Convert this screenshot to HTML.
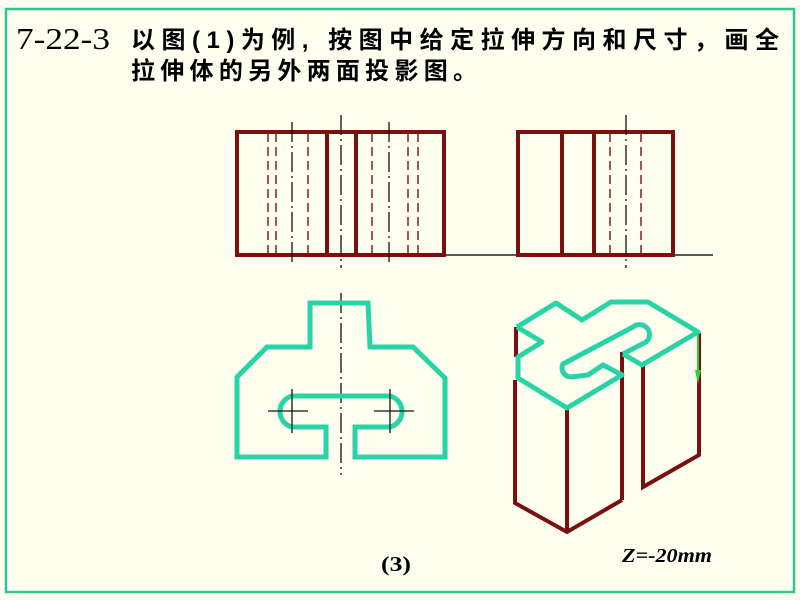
<!DOCTYPE html>
<html><head><meta charset="utf-8"><style>
html,body{margin:0;padding:0;background:#fffff0;}
body{width:800px;height:600px;position:relative;overflow:hidden;}
</style></head><body>
<svg width="800" height="600" style="position:absolute;left:0;top:0">
<rect x="0" y="0" width="800" height="600" fill="#fffff0"/>
<rect x="6" y="9" width="788" height="583" fill="none" stroke="#2ec496" stroke-width="2.5"/>
<g fill="none" stroke-linecap="butt">
<line x1="444" y1="255" x2="713" y2="255" stroke="#222" stroke-width="1.5"/>
<g stroke="#8b1a1a" stroke-width="1.5" stroke-dasharray="9,5">
<line x1="268" y1="133" x2="268" y2="254"/><line x1="276" y1="133" x2="276" y2="254"/>
<line x1="308" y1="133" x2="308" y2="254"/><line x1="372" y1="133" x2="372" y2="254"/>
<line x1="408" y1="133" x2="408" y2="254"/><line x1="418" y1="133" x2="418" y2="254"/>
<line x1="610" y1="133" x2="610" y2="254"/><line x1="641" y1="133" x2="641" y2="254"/>
</g>
<g stroke="#7a0f0f" stroke-width="4">
<rect x="237" y="132" width="207" height="123"/>
<line x1="327" y1="132" x2="327" y2="255"/><line x1="356" y1="132" x2="356" y2="255"/>
<rect x="518" y="132" width="155" height="123"/>
<line x1="562" y1="132" x2="562" y2="255"/><line x1="594" y1="132" x2="594" y2="255"/>
</g>
<g stroke="#111" stroke-width="1.3" stroke-dasharray="20,4,2,4">
<line x1="292" y1="122" x2="292" y2="265"/><line x1="341" y1="115" x2="341" y2="268"/>
<line x1="389" y1="122" x2="389" y2="265"/><line x1="626" y1="115" x2="626" y2="268"/>
<line x1="341" y1="293" x2="341" y2="475"/>
</g>
<path d="M310,303 L368,303 L370,347 L413,347 L445,378 L445,457 L355,457 L355,427 L390,427 A16,16 0 0 0 390,396 L292,396 A16,16 0 0 0 292,427 L326,427 L326,457 L237,457 L237,377 L267,347 L310,347 Z" stroke="#28d3a5" stroke-width="5" stroke-linejoin="miter"/>
<g stroke="#111" stroke-width="1.3">
<line x1="268" y1="411" x2="308" y2="411"/><line x1="292" y1="389" x2="292" y2="433"/>
<line x1="374" y1="411" x2="414" y2="411"/><line x1="390" y1="389" x2="390" y2="433"/>
</g>
<g stroke="#7a0f0f" stroke-width="4">
<line x1="516" y1="327" x2="516" y2="357"/>
<path d="M515,380 L515,503 L567,532 L622,500"/>
<line x1="567" y1="407" x2="567" y2="532"/>
<line x1="622" y1="352" x2="622" y2="500"/>
<path d="M643,366 L643,487 L699,455 L699,333"/>
</g>
<g stroke="#28d3a5" stroke-width="5" stroke-linejoin="round">
<path d="M517,327 L556,303 L582,320 L611,302 L648,302 L698,332 L642,365 L623,354"/>
<path d="M517,327 L542,342 L518,357 L518,378 L567,408 L622,375 L603,365 L588,375 L571,377 A9,9 0 0 1 563,364 L633,327 A9,9 0 0 1 646,342 L623,354"/>
</g>
<line x1="698" y1="334" x2="698" y2="378" stroke="#2ecc40" stroke-width="2"/>
<path d="M695,370 L701,370 L698,384 Z" fill="#2ecc40"/>
</g>
<text x="16" y="49" font-family="Liberation Serif, serif" font-size="31" textLength="94" lengthAdjust="spacingAndGlyphs">7-22-3</text>
<text x="131" y="48" font-family="Liberation Sans, Noto Sans CJK SC, sans-serif" font-size="24" font-weight="bold" textLength="648" lengthAdjust="spacing">以图(1)为例, 按图中给定拉伸方向和尺寸，画全</text>
<text x="131" y="79" font-family="Liberation Sans, Noto Sans CJK SC, sans-serif" font-size="24" font-weight="bold" textLength="346" lengthAdjust="spacing">拉伸体的另外两面投影图。</text>
<text x="381" y="571" font-family="Liberation Serif, serif" font-size="21" font-weight="bold" textLength="30" lengthAdjust="spacingAndGlyphs">(3)</text>
<text x="622" y="562" font-family="Liberation Serif, serif" font-size="20" font-weight="bold" font-style="italic" textLength="90" lengthAdjust="spacingAndGlyphs">Z=-20mm</text>
</svg>
</body></html>
